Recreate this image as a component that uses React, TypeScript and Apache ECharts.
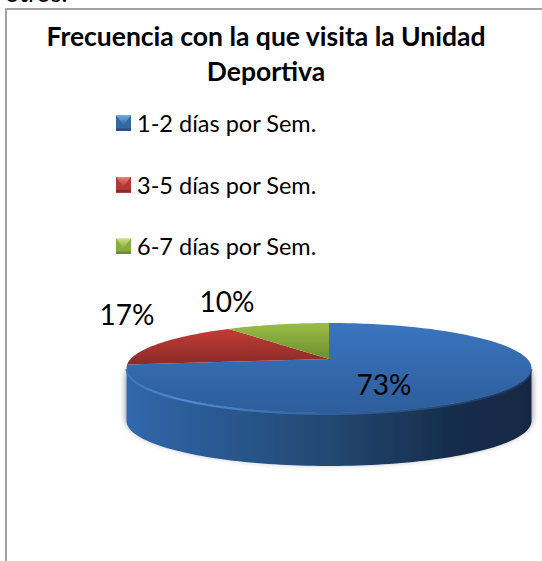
import React, { useEffect, useRef } from "react";
import * as echarts from "echarts";

const titleText = "Frecuencia con la que visita la Unidad\nDeportiva";
const clippedText = "otros.";
const categories = ["1-2 días por Sem.", "3-5 días por Sem.", "6-7 días por Sem."];
const values = [73, 17, 10];

const FONT = "Lato, Carlito, Calibri, sans-serif";
const topColors = [["#3a75be", "#2d5d9c"], ["#c23c38", "#8a2a28"], ["#9abd47", "#6e8e2e"]];
const bevelColors = [
  ["#6fa8e6", "#35679f", "#2a5288"],
  ["#ea7f7b", "#b13834", "#8a2a28"],
  ["#c7e07e", "#8aab3e", "#6e8e2e"],
];
// label centres as offsets in pixels from the pie's apex
const labelOffsets = [[55, 25], [-202, -45], [-102, -58]];

const APEX_X = 329, APEX_Y = 359, RX = 198.4, RY = 43.2, PERSP = 0.2, DEPTH = 53;

function rim(deg: number): [number, number] {
  const t = (deg * Math.PI) / 180;
  const u = Math.sin(t), v = Math.cos(t);
  const s = 1 / (1 + PERSP * v);
  return [APEX_X + RX * u * s, APEX_Y - RY * v * s];
}

function arc(a: number, b: number): [number, number][] {
  const pts: [number, number][] = [];
  const n = Math.max(2, Math.ceil(Math.abs(b - a) / 1.5));
  for (let i = 0; i <= n; i++) pts.push(rim(a + ((b - a) * i) / n));
  return pts;
}

function icon(i: number): string {
  const [light, mid, dark] = bevelColors[i];
  const svg = `<svg xmlns="http://www.w3.org/2000/svg" width="16" height="16"><defs><linearGradient id="g" x1="0" y1="0" x2="0" y2="1"><stop offset="0" stop-color="${light}"/><stop offset="1" stop-color="${mid}"/></linearGradient></defs><rect width="16" height="16" fill="${mid}"/><polygon points="0,0 16,0 8,10" fill="url(#g)"/><rect y="13" width="16" height="3" fill="${dark}"/></svg>`;
  return "image://data:image/svg+xml;charset=utf-8," + encodeURIComponent(svg);
}

const total = values.reduce((a, b) => a + b, 0);

function sliceSeries(i: number) {
  const start = (values.slice(0, i).reduce((a, b) => a + b, 0) / total) * 360;
  const end = start + (values[i] / total) * 360;
  return {
    type: "custom",
    name: categories[i],
    coordinateSystem: "none",
    silent: true,
    z: 3,
    data: [values[i]],
    itemStyle: { color: topColors[i][0] },
    renderItem: () => {
      const children: any[] = [];
      const a = Math.max(start, 101.5), b = Math.min(end, 258.5);
      const hasWall = b > a;
      if (hasWall) {
        const front = arc(a, b);
        const bottom = front.map(([x, y]) => [x, y + DEPTH]).reverse();
        children.push({
          type: "polygon",
          shape: { points: [...front, ...bottom] },
          style: {
            fill: {
              type: "linear", x: 1, y: 0, x2: 0, y2: 0,
              colorStops: [
                { offset: 0, color: "#142843" },
                { offset: 0.2, color: "#172d4c" },
                { offset: 0.5, color: "#234872" },
                { offset: 0.8, color: "#2b5a94" },
                { offset: 1, color: "#3068ac" },
              ],
            },
            shadowBlur: 7,
            shadowColor: "rgba(0,0,0,0.55)",
            shadowOffsetY: -3,
          },
        });
      }
      children.push({
        type: "polygon",
        shape: { points: [[APEX_X, APEX_Y], ...arc(start, end)] },
        style: {
          fill: {
            type: "linear", x: 0, y: 0, x2: 0, y2: 1,
            colorStops: [
              { offset: 0, color: topColors[i][0] },
              { offset: 1, color: topColors[i][1] },
            ],
          },
        },
      });
      if (hasWall) {
        children.push({
          type: "polyline",
          shape: { points: arc(a, b).map(([x, y]) => [x, y + 1]) },
          style: {
            fill: "none",
            lineWidth: 2,
            stroke: {
              type: "linear", x: 1, y: 0, x2: 0, y2: 0,
              colorStops: [
                { offset: 0, color: "rgba(35,70,115,0.6)" },
                { offset: 0.5, color: "#2f609c" },
                { offset: 0.85, color: "#4f8cd4" },
                { offset: 1, color: "#3c78c0" },
              ],
            },
          },
        });
      }
      children.push({
        type: "text",
        style: {
          text: `${values[i]}%`,
          x: APEX_X + labelOffsets[i][0],
          y: APEX_Y + labelOffsets[i][1],
          fill: "#000",
          font: `28px ${FONT}`,
          align: "center",
          verticalAlign: "middle",
        },
      });
      return { type: "group", children };
    },
  };
}

export default function App() {
  const ref = useRef<HTMLDivElement>(null);
  useEffect(() => {
    document.body.style.margin = "0";
    const chart = echarts.init(ref.current!, null, { renderer: "svg" });
    chart.setOption({
      animation: false,
      backgroundColor: "#fff",
      title: {
        text: titleText,
        left: 261,
        top: 13,
        textAlign: "center",
        textStyle: { fontFamily: FONT, fontSize: 26.5, fontWeight: "bold", color: "#000", lineHeight: 35 },
      },
      legend: {
        orient: "vertical",
        left: 111,
        top: 104,
        itemWidth: 15,
        itemHeight: 16,
        itemGap: 33.1,
        selectedMode: false,
        data: categories.map((name, i) => ({ name, icon: icon(i) })),
        textStyle: { fontFamily: FONT, fontSize: 23.5, color: "#000", lineHeight: 28.5, padding: [0, 0, 0, 1] },
      },
      graphic: [
        {
          type: "polyline",
          silent: true,
          shape: { points: [[6, 561], [6, 9], [542, 9]] },
          style: { fill: "none", stroke: "#a3a3a3", lineWidth: 2 },
        },
        {
          type: "text",
          silent: true,
          x: 5,
          y: -21,
          style: { text: clippedText, font: `25px ${FONT}`, fill: "#000" },
        },
      ],
      series: values.map((_, i) => sliceSeries(i)),
    });
    return () => chart.dispose();
  }, []);
  return <div ref={ref} style={{ position: "absolute", left: 0, top: 0, width: 542, height: 561 }} />;
}
